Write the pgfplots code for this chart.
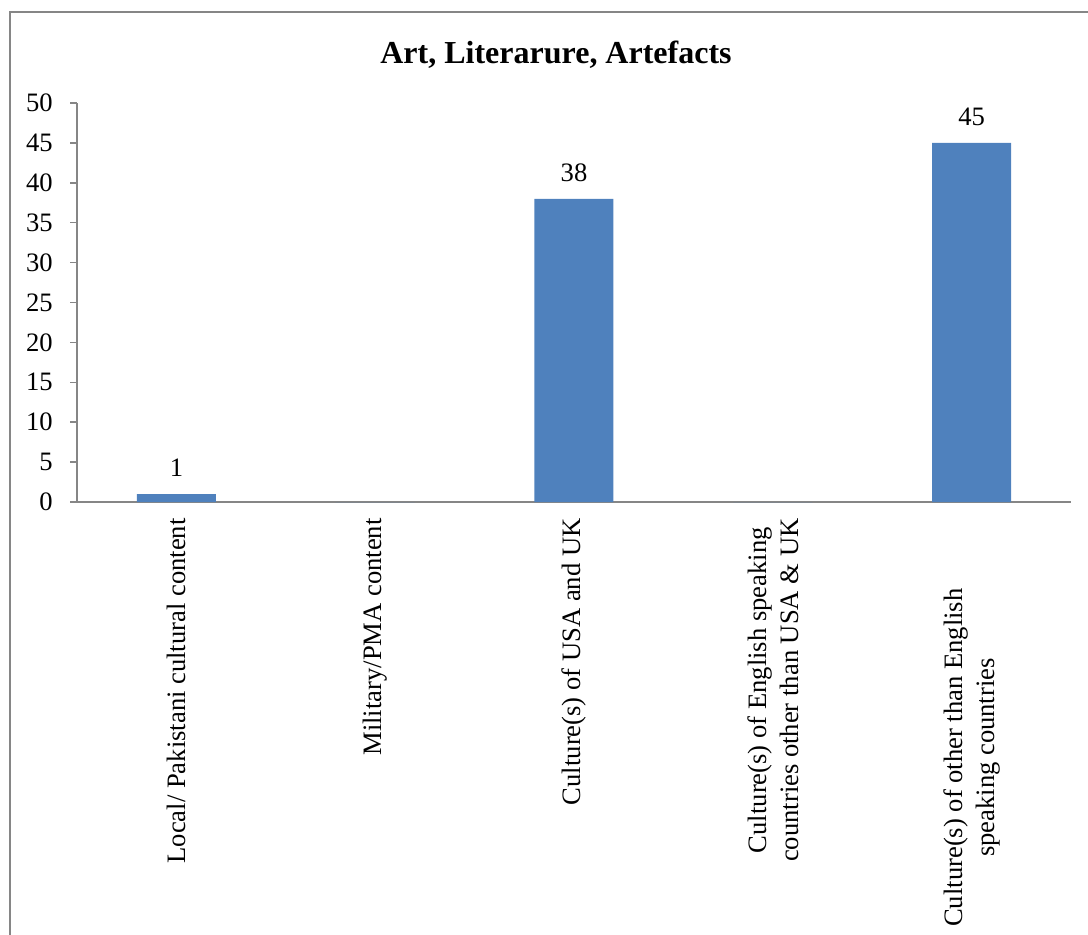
\documentclass[border=0pt]{standalone}
\usepackage{fontspec}
\setmainfont{Liberation Serif}
\usepackage{pgfplots}
\pgfplotsset{compat=1.18}
\definecolor{barblue}{HTML}{4F81BD}
\definecolor{framegray}{HTML}{868686}
\begin{document}
\begin{tikzpicture}
% page area (1 px = 0.5pt)
\clip (0,0) rectangle (544pt,-467pt);
\draw[framegray, line width=0.75pt] (5pt,-6pt) rectangle (580pt,-520pt);
\node[font=\fontsize{16}{19}\selectfont\bfseries] at (278pt,-27.5pt) {Art, Literarure, Artefacts};
\begin{axis}[
  at={(38.5pt,-251pt)}, anchor=south west,
  scale only axis, width=497pt, height=199.5pt,
  xmin=-0.5, xmax=4.5, ymin=0, ymax=50,
  axis lines=left, axis line style={-, framegray, line width=0.75pt},
  ytick={0,5,...,50},
  tick align=outside, major tick length=3.5pt,
  ytick style={framegray, line width=0.75pt},
  xtick style={draw=none},
  xtick={0,1,2,3,4},
  xticklabels={{Local/ Pakistani cultural content},
               {Military/PMA content},
               {Culture(s) of USA and UK},
               {Culture(s) of English speaking\\countries other than USA \& UK},
               {Culture(s) of other than English\rule{35pt}{0pt}\\speaking countries\rule{35pt}{0pt}}},
  xticklabel style={rotate=90, anchor=east, align=center, inner sep=0pt},
  xticklabel shift=4.5pt,
  yticklabel style={anchor=east, inner sep=0pt},
  yticklabel shift=8.5pt,
  tick label style={font=\fontsize{13.3}{16}\selectfont},
  /pgf/number format/assume math mode=true,
  ybar, bar width=39.5pt,
  nodes near coords={\pgfmathfloatifflags{\pgfplotspointmeta}{0}{}{\pgfmathprintnumber{\pgfplotspointmeta}}},
  every node near coord/.append style={anchor=center, yshift=13pt, font=\fontsize{13.3}{16}\selectfont, /pgf/number format/assume math mode=true},
  clip=false,
]
\addplot[fill=barblue, draw=none] coordinates {(0,1) (1,0) (2,38) (3,0) (4,45)};
\end{axis}
\end{tikzpicture}
\end{document}
